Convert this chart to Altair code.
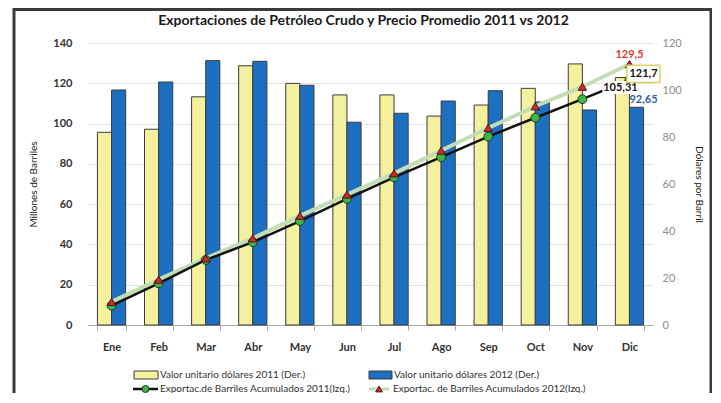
import altair as alt
import pandas as pd

# ---------------- data ----------------
meses = ["Ene", "Feb", "Mar", "Abr", "May", "Jun", "Jul", "Ago", "Sep", "Oct", "Nov", "Dic"]
precio_2011 = [82.0, 83.3, 97.1, 110.3, 102.8, 97.9, 97.9, 88.9, 93.6, 100.7, 111.1, 105.31]
precio_2012 = [100.0, 103.4, 112.5, 112.2, 102.0, 86.3, 90.1, 95.3, 99.7, 94.9, 91.5, 92.65]
acum_2011 = [9.6, 20.7, 32.3, 41.1, 51.6, 62.6, 73.3, 83.3, 93.5, 102.9, 112.1, 121.7]
acum_2012 = [11.5, 22.5, 33.1, 43.0, 54.2, 64.8, 75.3, 86.6, 97.8, 108.6, 118.3, 129.5]

serie_2011 = "Valor unitario dólares 2011 (Der.)"
serie_2012 = "Valor unitario dólares 2012 (Der.)"
linea_2011 = "Exportac.de Barriles Acumulados 2011(Izq.)"
linea_2012 = "Exportac. de Barriles Acumulados 2012(Izq.)"
titulo = "Exportaciones de Petróleo Crudo y Precio Promedio 2011 vs 2012"
ticks_izq = [0, 20, 40, 60, 80, 100, 120, 140]
ticks_der = [0, 20, 40, 60, 80, 100, 120]


def fmt(v):
    return f"{v:g}".replace(".", ",")


FONT = "Lato"
W, H = 565, 282
YELLOW = "#f4f09e"
BLUE = "#1d6fc2"
LIGHT = "#c3deb4"
GREEN = "#3db54b"
RED = "#d12a2a"

bars_df = pd.DataFrame({
    "mes": meses * 2,
    "serie": [serie_2011] * len(meses) + [serie_2012] * len(meses),
    "valor": precio_2011 + precio_2012,
})
lines_df = pd.DataFrame({"mes": meses, "a2011": acum_2011, "a2012": acum_2012})

dec = meses[-1]
ann_df = pd.DataFrame({
    "mes": [dec],
    "p11": [precio_2011[-1]], "t11": [fmt(precio_2011[-1])],
    "p12": [precio_2012[-1]], "t12": [fmt(precio_2012[-1])],
    "a11": [acum_2011[-1]], "ta11": [fmt(acum_2011[-1])],
    "a12": [acum_2012[-1]], "ta12": [fmt(acum_2012[-1])],
})

x_scale = alt.Scale(domain=meses, paddingInner=0.4, paddingOuter=0.2)
x_axis = alt.Axis(title=None, labelFont=FONT, labelFontSize=11, labelFontWeight="bold",
                  labelColor="#333333", labelPadding=11, labelAngle=0, tickBand="extent",
                  tickSize=5, tickColor="#a8a8a8", domainColor="#a8a8a8")


def X():
    return alt.X("mes:N", scale=x_scale, axis=x_axis)


def yR(field, axis=None):
    return alt.Y(field, scale=alt.Scale(domain=[0, 120], nice=False), axis=axis)


def yL(field, axis=None):
    return alt.Y(field, scale=alt.Scale(domain=[0, 140], nice=False), axis=axis)


axis_der = alt.Axis(orient="right", title="Dólares por Barril", values=ticks_der, grid=False,
                    ticks=False, domain=False, labelColor="#8c8c8c", labelFont=FONT,
                    labelFontSize=11, labelPadding=9, titleFont=FONT, titleFontSize=10,
                    titleFontWeight="normal", titleColor="#222222", titlePadding=12)
axis_izq = alt.Axis(orient="left", title="Millones de Barriles", values=ticks_izq, grid=True,
                    gridColor="#e2e2e2", ticks=False, domain=False, labelFont=FONT,
                    labelFontSize=11, labelFontWeight="bold", labelColor="#333333",
                    labelPadding=16, titleFont=FONT, titleFontSize=10,
                    titleFontWeight="normal", titleColor="#222222", titlePadding=14)

bars = alt.Chart(bars_df).mark_bar(stroke="#3c3c3c", strokeWidth=1).encode(
    x=X(),
    xOffset=alt.XOffset("serie:N", scale=alt.Scale(domain=[serie_2011, serie_2012],
                                                   paddingInner=0, paddingOuter=0)),
    y=yR("valor:Q", axis_der),
    color=alt.Color("serie:N", scale=alt.Scale(domain=[serie_2011, serie_2012],
                                               range=[YELLOW, BLUE]), legend=None),
)

line12 = alt.Chart(lines_df).mark_line(color=LIGHT, strokeWidth=4).encode(
    x=X(), y=yL("a2012:Q", axis_izq))
line11 = alt.Chart(lines_df).mark_line(color="#111111", strokeWidth=2.5).encode(
    x=X(), y=yL("a2011:Q"))
pts11 = alt.Chart(lines_df).mark_point(shape="circle", size=78, filled=True, fill=GREEN,
                                       stroke="#1d3d1d", strokeWidth=1, opacity=1).encode(
    x=X(), y=yL("a2011:Q"))
pts12 = alt.Chart(lines_df).mark_point(shape="triangle-up", size=70, filled=True, fill=RED,
                                       stroke="#4a1515", strokeWidth=1, opacity=1).encode(
    x=X(), y=yL("a2012:Q"))

box105 = alt.Chart(ann_df).mark_point(shape="M-1,-0.36H1V0.36H-1Z", size=1296, filled=True,
                                      fill="white", strokeWidth=0, opacity=1,
                                      xOffset=-9, yOffset=10).encode(
    x=X(), y=yR("p11:Q"))
txt105 = alt.Chart(ann_df).mark_text(font=FONT, fontSize=11, fontWeight="bold", color="#111111",
                                     dx=-9, dy=10, baseline="middle").encode(
    x=X(), y=yR("p11:Q"), text="t11:N")
box121 = alt.Chart(ann_df).mark_point(shape="M-1,-0.52H1V0.52H-1Z", size=1089, filled=True,
                                      fill="white", stroke="#e0cf62", strokeWidth=1.5,
                                      opacity=1, xOffset=14, yOffset=-6).encode(
    x=X(), y=yL("a11:Q"))
txt121 = alt.Chart(ann_df).mark_text(font=FONT, fontSize=11, fontWeight="bold", color="#111111",
                                     dx=14, dy=-6, baseline="middle").encode(
    x=X(), y=yL("a11:Q"), text="ta11:N")
txt129 = alt.Chart(ann_df).mark_text(font=FONT, fontSize=11, fontWeight="bold", color="#d83a2a",
                                     dy=-9, baseline="middle").encode(
    x=X(), y=yL("a12:Q"), text="ta12:N")
txt92 = alt.Chart(ann_df).mark_text(font=FONT, fontSize=11, fontWeight="bold", color="#2d5fb3",
                                    dx=14, dy=-7, baseline="middle").encode(
    x=X(), y=yR("p12:Q"), text="t12:N")

# ---------------- manual legend ----------------
dummy = alt.Data(values=[{"k": 1}])
LY1, LY2 = 332, 346
leg = [
    alt.Chart(dummy).mark_rect(fill=YELLOW, stroke="#3c3c3c", strokeWidth=1).encode(
        x=alt.value(46), x2=alt.value(70), y=alt.value(LY1 - 4), y2=alt.value(LY1 + 4)),
    alt.Chart(dummy).mark_text(font=FONT, fontSize=10, color="#333333", align="left",
                               baseline="middle").encode(
        x=alt.value(72), y=alt.value(LY1), text=alt.value(serie_2011)),
    alt.Chart(dummy).mark_rect(fill=BLUE, stroke="#3c3c3c", strokeWidth=1).encode(
        x=alt.value(281), x2=alt.value(304), y=alt.value(LY1 - 4), y2=alt.value(LY1 + 4)),
    alt.Chart(dummy).mark_text(font=FONT, fontSize=10, color="#333333", align="left",
                               baseline="middle").encode(
        x=alt.value(306), y=alt.value(LY1), text=alt.value(serie_2012)),
    alt.Chart(dummy).mark_rule(color="#111111", strokeWidth=2.5).encode(
        x=alt.value(45), x2=alt.value(70), y=alt.value(LY2)),
    alt.Chart(dummy).mark_point(shape="circle", size=50, filled=True, fill=GREEN,
                                stroke="#1d3d1d", strokeWidth=1, opacity=1).encode(
        x=alt.value(57.5), y=alt.value(LY2)),
    alt.Chart(dummy).mark_text(font=FONT, fontSize=10, color="#333333", align="left",
                               baseline="middle").encode(
        x=alt.value(72), y=alt.value(LY2), text=alt.value(linea_2011)),
    alt.Chart(dummy).mark_rule(color=LIGHT, strokeWidth=3).encode(
        x=alt.value(281), x2=alt.value(301), y=alt.value(LY2)),
    alt.Chart(dummy).mark_point(shape="triangle-up", size=45, filled=True, fill=RED,
                                stroke="#4a1515", strokeWidth=1, opacity=1).encode(
        x=alt.value(291), y=alt.value(LY2)),
    alt.Chart(dummy).mark_text(font=FONT, fontSize=10, color="#333333", align="left",
                               baseline="middle").encode(
        x=alt.value(305), y=alt.value(LY2), text=alt.value(linea_2012)),
]

frame = alt.Chart(dummy).mark_rect(fill="transparent", stroke="#3a3a3a", strokeWidth=3).encode(
    x=alt.value(-74), x2=alt.value(623), y=alt.value(-33.5), y2=alt.value(420))

chart = alt.layer(
    bars, line12, line11, pts11, pts12,
    box105, txt105, box121, txt121, txt129, txt92,
    *leg, frame,
).resolve_scale(y="independent").properties(
    width=W, height=H,
    title=alt.TitleParams(titulo, font=FONT, fontSize=14, fontWeight="bold", color="#1a1a1a",
                          anchor="middle", offset=-20, dx=-7),
    padding={"left": 80, "top": 35, "right": 59, "bottom": 68},
    autosize=alt.AutoSizeParams(type="none"),
    background="white",
).configure_view(strokeWidth=0)

chart.save("out.html", embed_options={"renderer": "svg", "actions": False})
